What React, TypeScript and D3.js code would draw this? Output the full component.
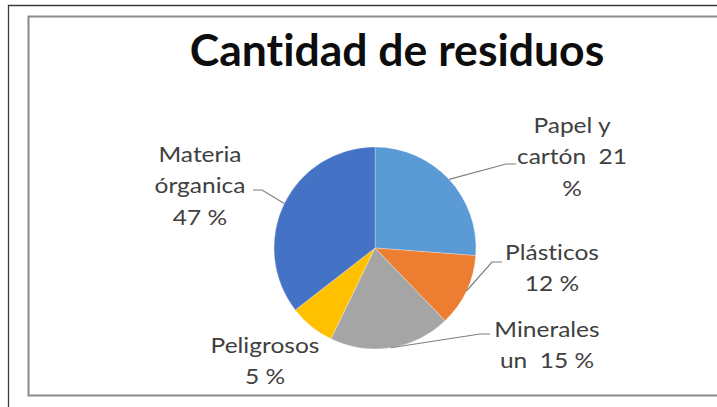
import React from "react";
import * as d3 from "d3";

const categories = ["Papel y cartón", "Plásticos", "Minerales", "Peligrosos", "Materia órganica"];
const values = [26.2, 11.6, 19.4, 7.3, 35.5];
const labelLines = [
  ["Papel y", "cartón  21", "%"],
  ["Plásticos", "12 %"],
  ["Minerales", "un  15 %"],
  ["Peligrosos", "5 %"],
  ["Materia", "órganica", "47 %"],
];
const colors = ["#5B9BD5", "#ED7D31", "#A5A5A5", "#FFC000", "#4472C4"];
const title = "Cantidad de residuos";

// layout: label center x, first baseline y, leader elbow and end (null = no leader)
const labelLayout = [
  { x: 572, y: 133, elbow: [506, 164], end: [516, 164] },
  { x: 552, y: 260, elbow: [492, 262], end: [502, 262] },
  { x: 547, y: 337, elbow: [480, 334], end: [490, 334] },
  { x: 265, y: 353, elbow: null, end: null },
  { x: 200, y: 162, elbow: [262, 190], end: [253, 190] },
];

const W = 717, H = 407;
const cx = 375, cy = 248, R = 101;
const lineH = 31.5;
const font = "Lato, 'Open Sans', sans-serif";
const stretch = 1.14;

export default function App() {
  const pie = d3.pie<number>().sort(null).startAngle(0).endAngle(2 * Math.PI);
  const arcs = pie(values);
  const arc = d3.arc<d3.PieArcDatum<number>>().innerRadius(0).outerRadius(R);
  const noLig = { fontVariantLigatures: "none", fontFeatureSettings: '"liga" 0, "clig" 0' } as React.CSSProperties;
  return (
    <svg width={W} height={H} style={{ position: "absolute", left: 0, top: 0, background: "#fff" }}>
      <rect x={0} y={0} width={W} height={H} fill="#fff" />
      <path d={`M8.5,${H} V5.5 H${W}`} fill="none" stroke="#3a3a3a" strokeWidth={1.3} />
      <path d={`M${W},16.5 H28.5 V395.5 H${W}`} fill="none" stroke="#8a8a8a" strokeWidth={2} />
      <text x={397} y={66} textAnchor="middle" fontFamily={font} fontWeight={700} fontSize={44.5} fill="#0d0d0d" style={noLig}>
        {title}
      </text>
      <g transform={`translate(${cx},${cy})`}>
        {arcs.map((a, i) => (
          <path key={categories[i]} d={arc(a) || ""} fill={colors[i]} stroke="#fff" strokeWidth={0.3} />
        ))}
      </g>
      {arcs.map((a, i) => {
        const L = labelLayout[i];
        if (!L.elbow) return null;
        const mid = (a.startAngle + a.endAngle) / 2;
        const sx = cx + R * Math.sin(mid);
        const sy = cy - R * Math.cos(mid);
        return (
          <polyline
            key={"l" + i}
            points={`${sx},${sy} ${L.elbow[0]},${L.elbow[1]} ${L.end![0]},${L.end![1]}`}
            fill="none"
            stroke="#7f7f7f"
            strokeWidth={1.2}
          />
        );
      })}
      {labelLines.map((lines, i) => (
        <g key={"t" + i} transform={`translate(${labelLayout[i].x},0) scale(${stretch},1)`}>
          <text textAnchor="middle" fontFamily={font} fontSize={21.5} fill="#404040" style={{ whiteSpace: "pre", ...noLig }}>
            {lines.map((ln, j) => (
              <tspan key={j} x={0} y={labelLayout[i].y + j * lineH}>
                {ln}
              </tspan>
            ))}
          </text>
        </g>
      ))}
    </svg>
  );
}
